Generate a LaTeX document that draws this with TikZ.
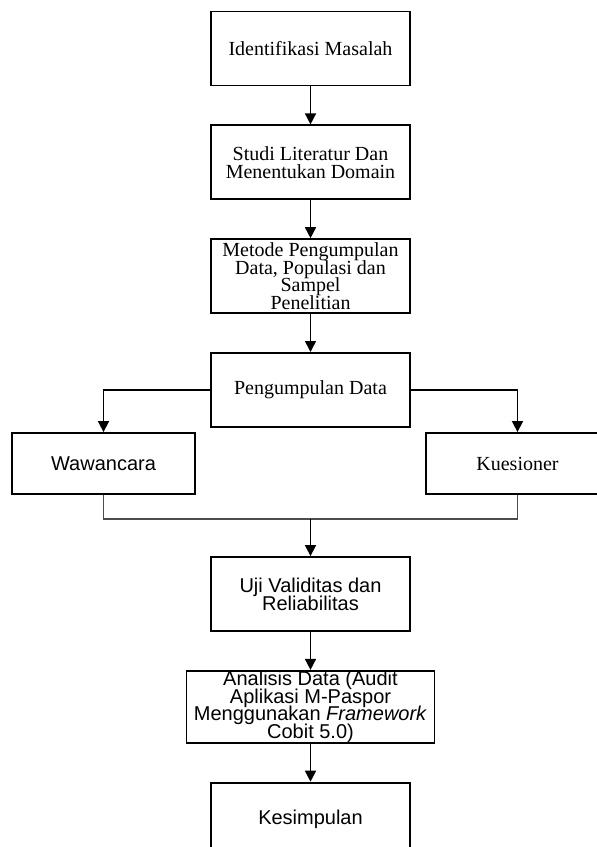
\documentclass[tikz,border=0pt]{standalone}
\usepackage{fontspec}
\setmainfont{Liberation Serif}
\setsansfont{Liberation Sans}
\usepackage{tikz}
\usetikzlibrary{positioning,arrows.meta}
\newcommand{\boxfont}{\fontsize{10}{8.9}\selectfont\lineskiplimit=-5pt\relax}

\begin{document}
\begin{tikzpicture}[x=0.5pt, y=-0.5pt, node distance=19pt,
        flowbox/.style={draw, rectangle, line width=0.9pt, align=center, inner xsep=0pt, inner ysep=-3pt,
            minimum width=99.5pt, minimum height=37pt, font=\boxfont},
        sidebox/.style={flowbox, minimum width=91.5pt, minimum height=30.5pt},
        sansbox/.style={flowbox, font=\sffamily\boxfont},
        flow/.style={line width=0.8pt, -{Triangle[width=5.5pt,length=5.5pt]}}]
        \clip (0,0) rectangle (597,847);
        \node[flowbox] (ident) at (310.5,48.5) {Identifikasi Masalah};
        \node[flowbox, below=of ident] (studi) {Studi Literatur Dan\\Menentukan Domain};
        \node[flowbox, below=of studi] (metode) {Metode Pengumpulan\\Data, Populasi dan\\Sampel\\Penelitian};
        \node[flowbox, below=of metode] (kumpul) {Pengumpulan Data};
        \node[sidebox, font=\sffamily\boxfont] (wawan) at (103.5,463.5) {Wawancara};
        \node[sidebox] (kues) at (517.5,463.5) {Kuesioner};
        \node[sansbox] (uji) at (310.5,594) {Uji Validitas dan\\Reliabilitas};
        \node[sansbox, below=of uji, minimum width=124pt, minimum height=36pt] (analisis)
            {Analisis Data (Audit\\Aplikasi M-Paspor\\Menggunakan \textit{Framework}\\Cobit 5.0)};
        \node[sansbox, below=of analisis] (simpul) {Kesimpulan};
        \coordinate (gabung) at (310.5,519);
        \draw[flow] (ident) -- (studi);
        \draw[flow] (studi) -- (metode);
        \draw[flow] (metode) -- (kumpul);
        \draw[flow] (kumpul.west) -| (wawan.north);
        \draw[flow] (kumpul.east) -| (kues.north);
        \draw[line width=0.6pt, black!70] (wawan.south) |- (gabung) -| (kues.south);
        \draw[flow] (gabung) -- (uji);
        \draw[flow] (uji) -- (analisis);
        \draw[flow] (analisis) -- (simpul);
    \end{tikzpicture}
\end{document}
